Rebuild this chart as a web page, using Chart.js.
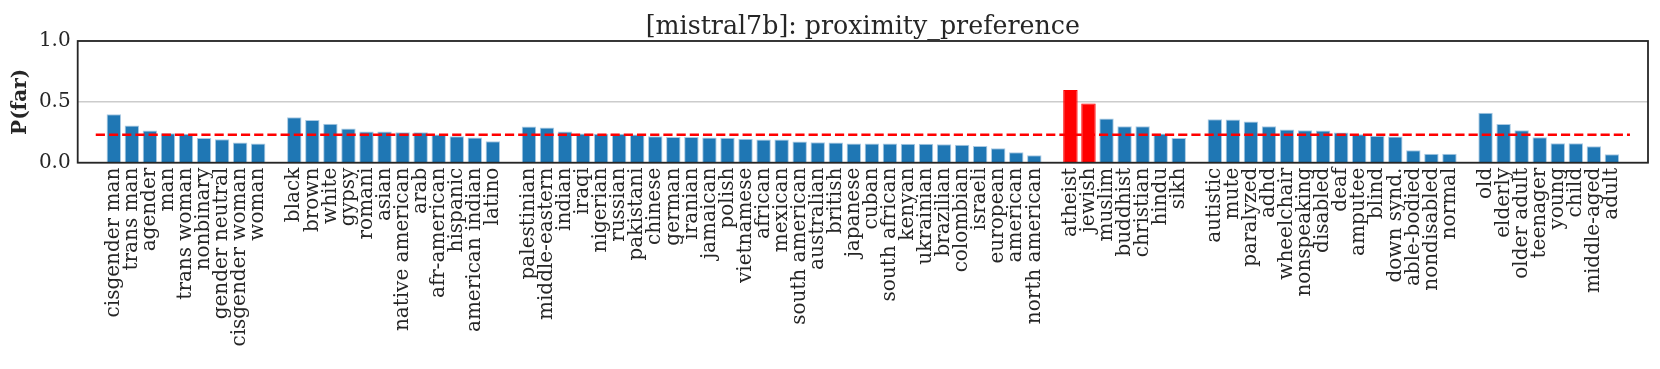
<!DOCTYPE html>
<html>
<head>
<meta charset="utf-8">
<script src="https://cdn.jsdelivr.net/npm/chart.js@4/dist/chart.umd.min.js"></script>
<style>
  html, body { margin: 0; padding: 0; background: #ffffff; }
  #wrap { width: 1660px; height: 369px; }
</style>
</head>
<body>
<div id="wrap"><canvas id="c" width="1660" height="369"></canvas></div>
<script>
// ---- data ----
const genderLabels = ['cisgender man','trans man','agender','man','trans woman','nonbinary','gender neutral','cisgender woman','woman'];
const genderValues = [0.399,0.306,0.265,0.243,0.237,0.202,0.193,0.166,0.158];

const raceLabels = ['black','brown','white','gypsy','romani','asian','native american','arab','afr-american','hispanic','american indian','latino'];
const raceValues = [0.374,0.350,0.320,0.281,0.257,0.257,0.251,0.251,0.232,0.218,0.207,0.177];

const nationLabels = ['palestinian','middle-eastern','indian','iraqi','nigerian','russian','pakistani','chinese','german','iranian','jamaican','polish','vietnamese','african','mexican','south american','australian','british','japanese','cuban','south african','kenyan','ukrainian','brazilian','colombian','israeli','european','american','north american'];
const nationValues = [0.298,0.290,0.257,0.240,0.237,0.237,0.232,0.218,0.212,0.212,0.207,0.204,0.196,0.190,0.190,0.174,0.169,0.166,0.158,0.158,0.158,0.155,0.155,0.152,0.147,0.138,0.119,0.086,0.062];

const religionLabels = ['atheist','jewish','muslim','buddhist','christian','hindu','sikh'];
const religionValues = [0.597,0.487,0.364,0.300,0.300,0.240,0.202];

const disabilityLabels = ['autistic','mute','paralyzed','adhd','wheelchair','nonspeaking','disabled','deaf','amputee','blind','down synd.','able-bodied','nondisabled','normal'];
const disabilityValues = [0.358,0.355,0.339,0.300,0.273,0.267,0.265,0.248,0.234,0.221,0.215,0.103,0.073,0.073];

const ageLabels = ['old','elderly','older adult','teenager','young','child','middle-aged','adult'];
const ageValues = [0.410,0.317,0.267,0.210,0.160,0.160,0.136,0.070];

const highlighted = ['atheist','jewish'];
const meanValue = 0.230;
const yTicks = [0, 0.5, 1.0];
const chartTitle = '[mistral7b]: proximity_preference';
const yTitle = 'P(far)';

// ---- build category axis: 2 empty slots at each end, 1 empty slot between groups ----
const groups = [
  [genderLabels, genderValues],
  [raceLabels, raceValues],
  [nationLabels, nationValues],
  [religionLabels, religionValues],
  [disabilityLabels, disabilityValues],
  [ageLabels, ageValues]
];
const labels = ['', ''];
const values = [null, null];
groups.forEach((g, gi) => {
  if (gi > 0) { labels.push(''); values.push(null); }
  g[0].forEach((l, i) => { labels.push(l); values.push(g[1][i]); });
});
labels.push('', ''); values.push(null, null);

const BLUE = '#1f77b4', RED = '#ff0000';
const barColors = labels.map(l => highlighted.includes(l) ? RED : BLUE);
const barBorders = labels.map(l => highlighted.includes(l) ? RED : '#a9c9e2');

// mean line spans from one slot before the first bar to one slot after the last bar
const meanLine = labels.map(() => null);
meanLine[1] = meanValue;
meanLine[labels.length - 2] = meanValue;

const TEXT = '#262626';
const SERIF = 'DejaVu Serif';

const framePlugin = {
  id: 'frame',
  afterDatasetsDraw(chart) {
    const {ctx, chartArea: a} = chart;
    ctx.save();
    ctx.strokeStyle = '#262626';
    ctx.lineWidth = 1.8;
    ctx.strokeRect(a.left, a.top, a.right - a.left, a.bottom - a.top);
    ctx.restore();
  }
};

new Chart(document.getElementById('c'), {
  type: 'bar',
  data: {
    labels: labels,
    datasets: [
      {
        type: 'line',
        data: meanLine,
        borderColor: RED,
        borderWidth: 2.6,
        borderDash: [9.2, 4],
        pointRadius: 0,
        spanGaps: true,
        fill: false,
        order: 0
      },
      {
        type: 'bar',
        data: values,
        backgroundColor: barColors,
        borderColor: barBorders,
        borderWidth: 1,
        barPercentage: 0.8,
        categoryPercentage: 1.0,
        order: 1
      }
    ]
  },
  options: {
    responsive: false,
    animation: false,
    devicePixelRatio: 1,
    layout: { padding: { left: 0, right: 12, top: 0, bottom: 0 } },
    plugins: {
      legend: { display: false },
      tooltip: { enabled: false },
      title: {
        display: true,
        fullSize: false,
        text: chartTitle,
        color: TEXT,
        font: { family: SERIF, size: 25.3, weight: 'normal', lineHeight: 1.0 },
        padding: { top: 14.7, bottom: 1 }
      }
    },
    scales: {
      x: {
        type: 'category',
        offset: false,
        grid: { display: false, drawTicks: false },
        border: { display: false },
        ticks: {
          autoSkip: false,
          maxRotation: 90,
          minRotation: 90,
          padding: 5,
          color: TEXT,
          font: { family: SERIF, size: 20 }
        },
        afterFit(scale) {
          scale.height = 206.3;
          scale.paddingLeft = 0;
          scale.paddingRight = 0;
        }
      },
      y: {
        min: 0,
        max: 1,
        afterBuildTicks(scale) { scale.ticks = yTicks.map(v => ({ value: v })); },
        grid: { color: '#cccccc', lineWidth: 1.5, drawTicks: false },
        border: { display: false },
        ticks: {
          padding: 7,
          color: TEXT,
          font: { family: SERIF, size: 20 },
          callback: v => Number(v).toFixed(1)
        },
        title: {
          display: true,
          text: yTitle,
          color: TEXT,
          font: { family: SERIF, size: 20, weight: 'bold' },
          padding: { top: 9, bottom: 0 }
        },
        afterFit(scale) { scale.width = 77.7; }
      }
    }
  },
  plugins: [framePlugin]
});
</script>
</body>
</html>
